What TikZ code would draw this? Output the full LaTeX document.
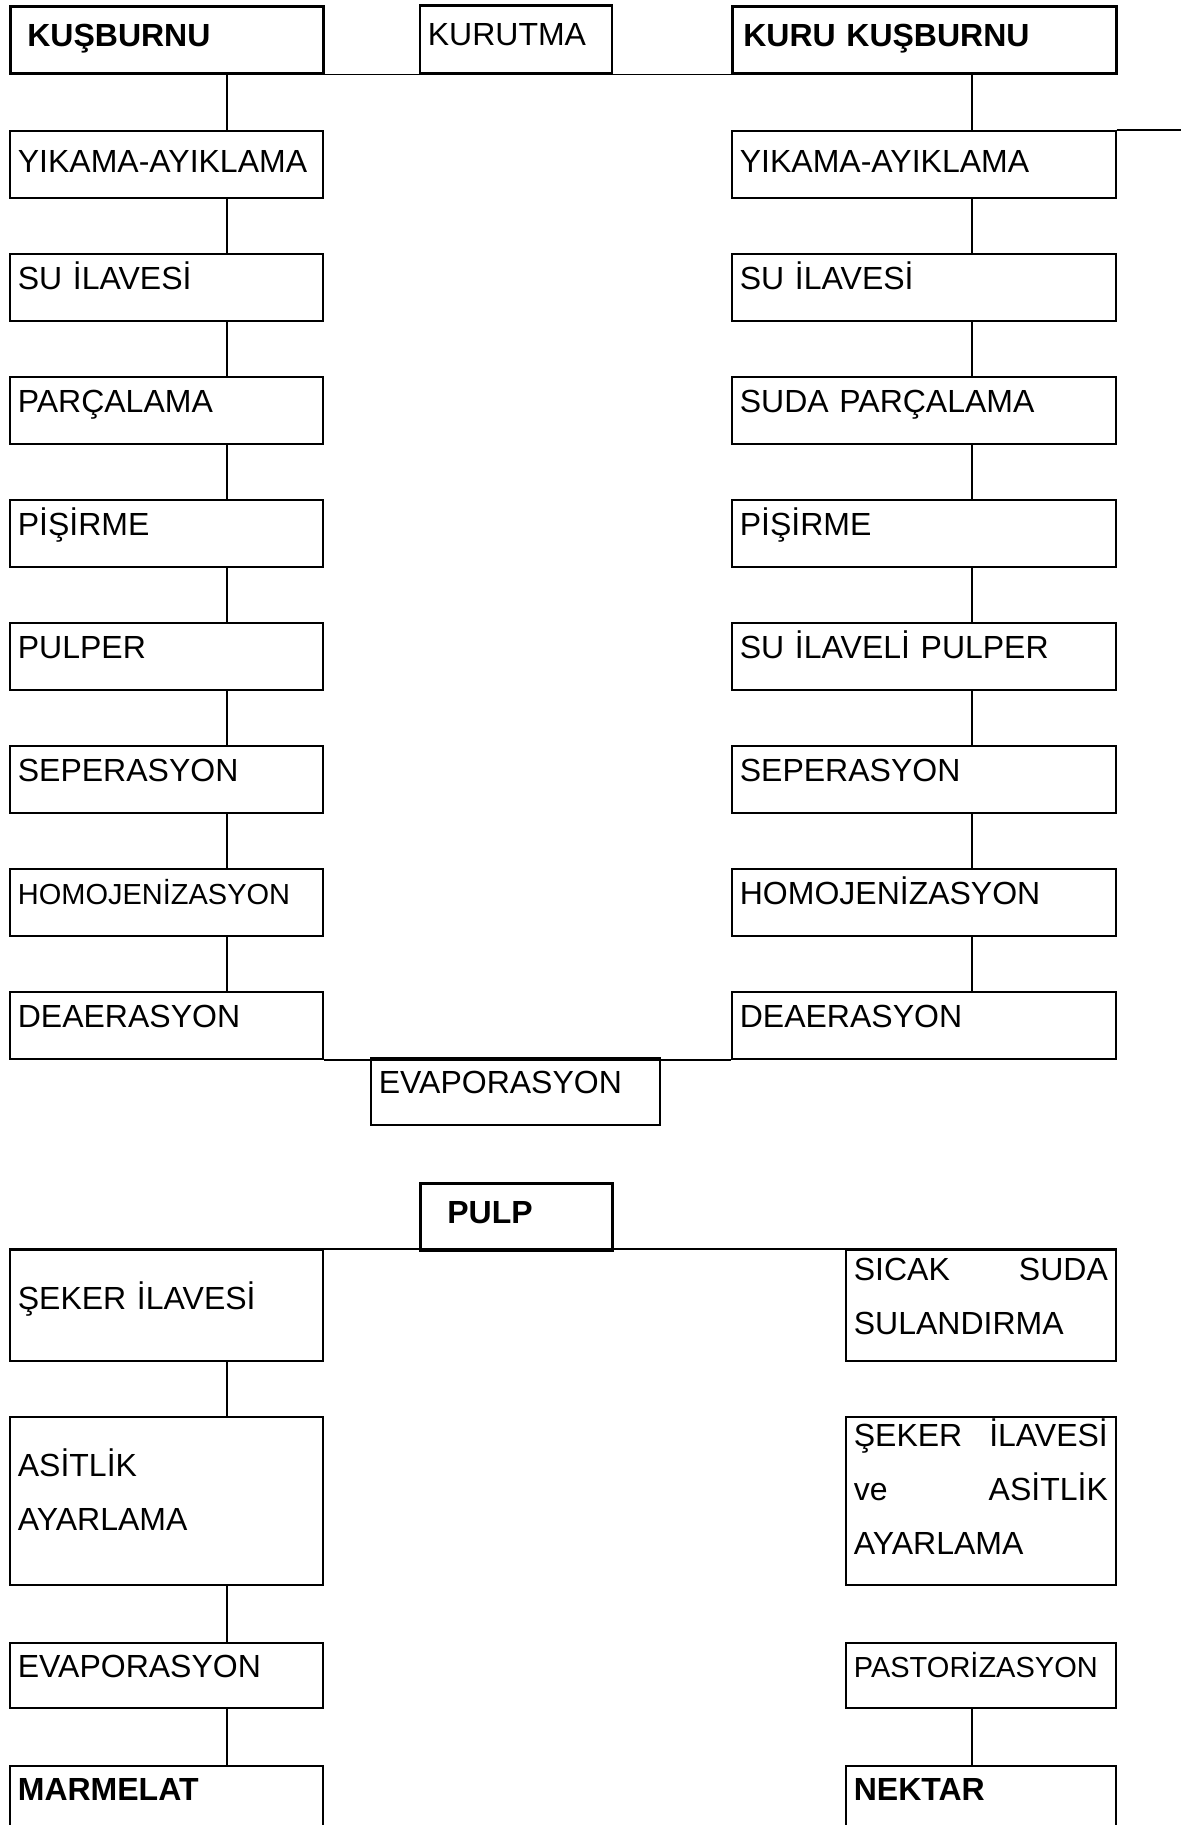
\documentclass[tikz,border=0pt]{standalone}
\usepackage{fontspec}
\setmainfont{Liberation Sans}
\newcommand{\boxfont}{\fontsize{16pt}{27pt}\selectfont}
\newcommand{\smallfont}{\fontsize{14.5pt}{24pt}\selectfont}

\begin{document}
\begin{tikzpicture}[x=0.5pt,y=-0.5pt,
  box/.style={draw,line width=0.85pt,anchor=north west,inner xsep=4pt,inner ysep=0pt,align=left,font=\boxfont},
  heavy/.style={line width=1.35pt},
  lcol/.style={box,text width=148.5pt},
  rcol/.style={box,text width=184pt},
  ncol/.style={box,text width=127pt},
  row/.style={text height=18pt,text depth=15.5pt},
  toprow/.style={text height=20pt,text depth=13.5pt},
  link/.style={line width=0.8pt}]
  \useasboundingbox (0,0) rectangle (1188,1825);
  \clip (0,0) rectangle (1188,1825);
  \coordinate (lx) at (227,0);
  \coordinate (rx) at (972,0);
  % raw materials
  \node[lcol,heavy,toprow] (kus) at (9,5) {\hspace*{4.5pt}\textbf{KUŞBURNU}};
  \node[box,text width=88pt,toprow] (kurut) at (419,5) {KURUTMA};
  \node[rcol,heavy,toprow] (kuru) at (731,5) {\hspace*{1.5pt}\textbf{KURU KUŞBURNU}};
  \draw[heavy] (kurut.north west) -- (kurut.north east);
  \draw[link] (kus.south east) -- (kuru.south west);
  % fresh fruit line
  \node[lcol,text height=21pt,text depth=12.5pt] (lyik) at (9,130) {YIKAMA-AYIKLAMA};
  \node[lcol,row] (lsu) at (9,253) {SU İLAVESİ};
  \node[lcol,row] (lpar) at (9,376) {PARÇALAMA};
  \node[lcol,row] (lpis) at (9,499) {PİŞİRME};
  \node[lcol,row] (lpul) at (9,622) {PULPER};
  \node[lcol,row] (lsep) at (9,745) {SEPERASYON};
  \node[lcol,row,font=\smallfont] (lhom) at (9,868) {HOMOJENİZASYON};
  \node[lcol,row] (ldea) at (9,991) {DEAERASYON};
  \draw[link] (kus.south -| lx) -- (lyik.north -| lx);
  \draw[link] (lyik.south -| lx) -- (lsu.north -| lx);
  \draw[link] (lsu.south -| lx) -- (lpar.north -| lx);
  \draw[link] (lpar.south -| lx) -- (lpis.north -| lx);
  \draw[link] (lpis.south -| lx) -- (lpul.north -| lx);
  \draw[link] (lpul.south -| lx) -- (lsep.north -| lx);
  \draw[link] (lsep.south -| lx) -- (lhom.north -| lx);
  \draw[link] (lhom.south -| lx) -- (ldea.north -| lx);
  % dried fruit line
  \node[rcol,text height=21pt,text depth=12.5pt] (ryik) at (731,130) {YIKAMA-AYIKLAMA};
  \node[rcol,row] (rsu) at (731,253) {SU İLAVESİ};
  \node[rcol,row] (rpar) at (731,376) {SUDA PARÇALAMA};
  \node[rcol,row] (rpis) at (731,499) {PİŞİRME};
  \node[rcol,row] (rpul) at (731,622) {SU İLAVELİ PULPER};
  \node[rcol,row] (rsep) at (731,745) {SEPERASYON};
  \node[rcol,row] (rhom) at (731,868) {HOMOJENİZASYON};
  \node[rcol,row] (rdea) at (731,991) {DEAERASYON};
  \coordinate (tail) at (1181,130);
  \draw[link] (ryik.north east) -- (tail);
  \draw[link] (kuru.south -| rx) -- (ryik.north -| rx);
  \draw[link] (ryik.south -| rx) -- (rsu.north -| rx);
  \draw[link] (rsu.south -| rx) -- (rpar.north -| rx);
  \draw[link] (rpar.south -| rx) -- (rpis.north -| rx);
  \draw[link] (rpis.south -| rx) -- (rpul.north -| rx);
  \draw[link] (rpul.south -| rx) -- (rsep.north -| rx);
  \draw[link] (rsep.south -| rx) -- (rhom.north -| rx);
  \draw[link] (rhom.south -| rx) -- (rdea.north -| rx);
  % join
  \draw[link] (ldea.south east) -- (rdea.south west);
  \node[box,text width=136.5pt,row] (evap) at (370,1057) {EVAPORASYON};
  \node[box,heavy,text width=88pt,toprow] (pulp) at (419,1182) {\hspace*{9.5pt}\textbf{PULP}};
  % marmelat
  \node[lcol,text height=30pt,text depth=25.5pt] (lsek) at (9,1249) {ŞEKER İLAVESİ};
  \node[lcol,text height=30pt,text depth=54pt] (lasit) at (9,1416) {ASİTLİK\\AYARLAMA};
  \node[lcol,text height=17.5pt,text depth=15pt] (levap) at (9,1642) {EVAPORASYON};
  \node[lcol,text height=17.5pt,text depth=30pt] (lmar) at (9,1765) {\textbf{MARMELAT}};
  \draw[link] (lsek.south -| lx) -- (lasit.north -| lx);
  \draw[link] (lasit.south -| lx) -- (levap.north -| lx);
  \draw[link] (levap.south -| lx) -- (lmar.north -| lx);
  % nektar
  \node[ncol,text height=15.5pt,text depth=40pt] (nsic) at (845,1249) {SICAK\hfill SUDA\\SULANDIRMA};
  \node[ncol,text height=15pt,text depth=69pt] (nsek) at (845,1416) {ŞEKER\hfill İLAVESİ\\ve\hfill ASİTLİK\\AYARLAMA};
  \node[ncol,text height=17.5pt,text depth=15pt,font=\smallfont] (npas) at (845,1642) {PASTORİZASYON};
  \node[ncol,text height=17.5pt,text depth=30pt] (nnek) at (845,1765) {\textbf{NEKTAR}};
  \draw[link] (lsek.north west) -- (nsic.north east);
  \draw[link] (npas.south -| rx) -- (nnek.north -| rx);
\end{tikzpicture}
\end{document}
